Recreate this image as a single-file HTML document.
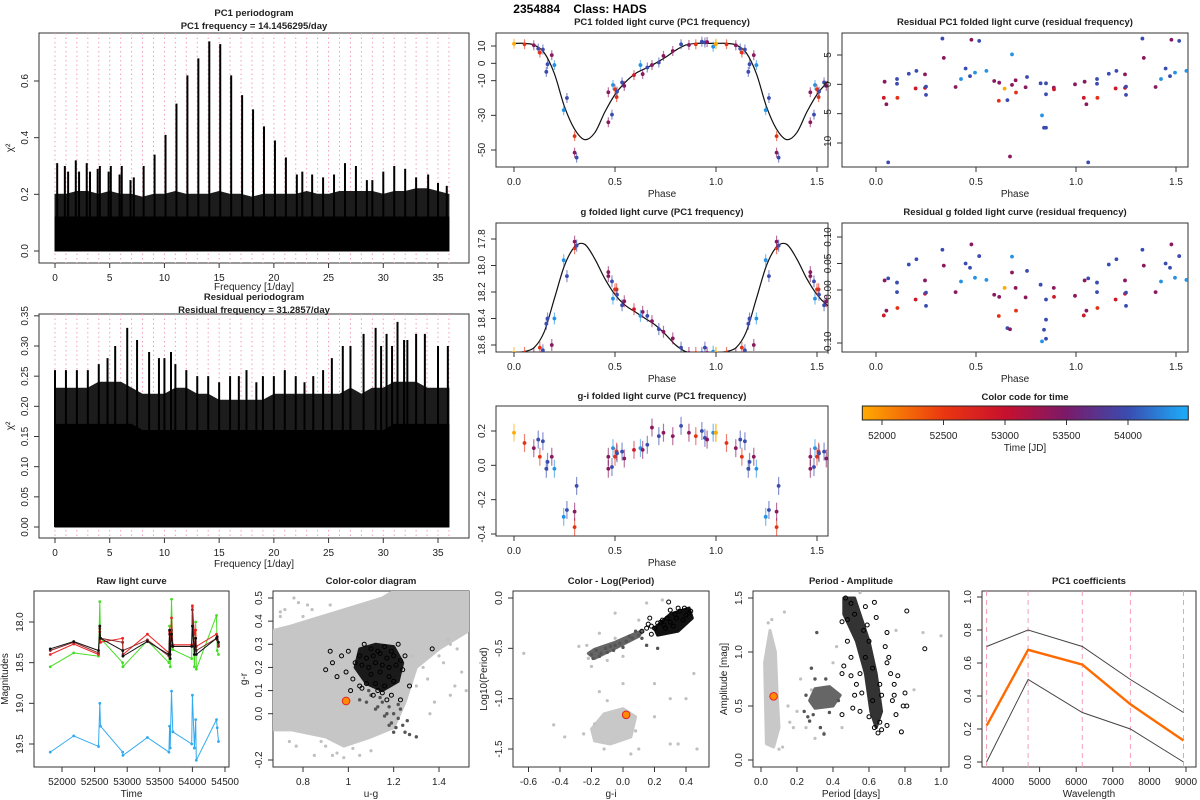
<!DOCTYPE html>
<html><head><meta charset="utf-8">
<style>
html,body{margin:0;padding:0;background:#fff;}
svg{display:block;font-family:"Liberation Sans",Arial,sans-serif;}
</style></head>
<body>
<svg id="fig" width="1200" height="800" viewBox="0 0 1200 800" xmlns="http://www.w3.org/2000/svg">
<text x="580" y="13" text-anchor="middle" font-size="12" font-weight="bold">2354884 &#160;&#160;&#160;Class: HADS</text>
</svg>
<script>
// ---------- data ----------
const pc1PeakF = [0.2,0.9,1.2,1.9,2.2,2.9,3.2,3.9,4.1,4.9,5.1,5.9,6.1,6.9,7.2,8.1,9.1,10.1,11.1,12.1,13.1,14.1,15.1,16.1,17.1,18.1,19.1,20.1,21.1,22.1,22.6,23.5,24.5,25.5,26.5,27.5,28.5,29.0,30.0,31.0,32.0,33.0,34.1,35.0,35.8];
const pc1PeakH = [0.31,0.30,0.28,0.32,0.28,0.31,0.28,0.29,0.30,0.28,0.30,0.27,0.30,0.25,0.26,0.30,0.34,0.41,0.52,0.62,0.68,0.74,0.73,0.62,0.55,0.50,0.44,0.39,0.33,0.27,0.28,0.27,0.26,0.27,0.31,0.30,0.25,0.25,0.28,0.30,0.29,0.26,0.27,0.24,0.23];
const pc1Env = [0.20,0.20,0.21,0.21,0.20,0.21,0.20,0.20,0.19,0.20,0.20,0.21,0.20,0.20,0.20,0.21,0.20,0.20,0.19,0.20,0.20,0.20,0.20,0.21,0.20,0.20,0.21,0.21,0.21,0.21,0.20,0.21,0.21,0.22,0.22,0.21,0.20];
const pc1Core = [0.12,0.12,0.12,0.12,0.12,0.12,0.12,0.12,0.12,0.12,0.12,0.12,0.12,0.12,0.12,0.12,0.12,0.12,0.12,0.12,0.12,0.12,0.12,0.12,0.12,0.12,0.12,0.12,0.12,0.12,0.12,0.12,0.12,0.12,0.12,0.12,0.12];
const resPeakF = [0.0,1.0,2.0,3.0,4.0,4.8,5.5,6.6,7.5,8.6,9.5,10.0,10.6,11.0,12.0,13.0,14.0,15.0,16.0,16.8,17.5,18.4,19.0,20.0,21.0,22.0,22.8,23.6,24.5,25.3,26.3,27.0,28.2,29.3,29.8,30.3,30.8,31.3,31.9,32.2,33.0,33.8,35.0,35.9];
const resPeakH = [0.26,0.26,0.26,0.26,0.27,0.28,0.30,0.33,0.31,0.29,0.28,0.28,0.29,0.27,0.26,0.25,0.25,0.24,0.25,0.25,0.26,0.24,0.25,0.25,0.26,0.25,0.24,0.25,0.26,0.28,0.30,0.30,0.32,0.33,0.30,0.32,0.30,0.34,0.31,0.31,0.32,0.32,0.30,0.30];
const resEnv = [0.23,0.23,0.23,0.23,0.24,0.24,0.24,0.23,0.22,0.22,0.22,0.23,0.23,0.22,0.22,0.21,0.21,0.21,0.21,0.21,0.22,0.22,0.22,0.22,0.22,0.22,0.22,0.23,0.22,0.23,0.23,0.24,0.24,0.24,0.23,0.23,0.23];
const resCore = [0.17,0.17,0.17,0.17,0.17,0.17,0.17,0.17,0.16,0.16,0.16,0.16,0.16,0.16,0.16,0.16,0.16,0.16,0.16,0.16,0.16,0.16,0.16,0.16,0.16,0.16,0.16,0.16,0.16,0.16,0.16,0.17,0.17,0.17,0.17,0.17,0.17];

const foldPhase = [0.0,0.052,0.098,0.12,0.128,0.143,0.16,0.166,0.187,0.2,0.246,0.262,0.30,0.30,0.31,0.467,0.467,0.485,0.49,0.5,0.508,0.51,0.535,0.546,0.594,0.626,0.637,0.66,0.683,0.717,0.74,0.786,0.827,0.866,0.9,0.93,0.945,0.956,0.986,0.999];
const foldTime  = [51830,52580,53400,54000,52580,54000,54000,54000,53400,54350,54350,54000,52580,53400,54000,53400,53400,54000,54350,52580,52580,54000,54000,53400,52900,54350,53400,54000,53400,54000,53400,53400,54000,53400,52580,54000,54000,53400,54350,51830];
const foldPC1   = [11.3,11,10.4,8.5,6.2,8,-4.9,-0.5,4.7,-1,-27,-20,-42,-51.5,-54.4,-16.7,-34,-29.6,-12.5,-15,-19.5,-16.3,-11,-13,-6.8,-1,-6.2,-2.4,-1,0.5,4.3,7.1,11,10.6,11,12.5,12,12.3,9.6,11];
const foldG     = [18.66,18.66,18.67,18.70,18.62,18.64,18.44,18.40,18.60,18.40,17.96,18.08,17.87,17.82,17.85,18.05,18.08,18.12,18.25,18.18,18.18,18.22,18.30,18.27,18.33,18.38,18.35,18.38,18.42,18.48,18.50,18.55,18.62,18.66,18.66,18.66,18.62,18.66,18.65,18.66];
const foldGI    = [0.19,0.13,0.10,0.15,0.05,0.14,-0.02,0.02,0.05,-0.02,-0.30,-0.26,-0.36,-0.27,-0.12,-0.02,0.05,-0.01,0.10,0.05,0.08,0.07,0.08,0.04,0.09,0.10,0.09,0.12,0.22,0.17,0.19,0.17,0.23,0.19,0.17,0.20,0.16,0.15,0.19,0.19];
const modelPhase = [0,0.05,0.1,0.15,0.2,0.25,0.3,0.35,0.4,0.45,0.5,0.55,0.6,0.65,0.7,0.75,0.8,0.85,0.9,0.95];
const modelPC1 = [11.5,11.5,10.5,6,-6,-25,-38,-44,-40,-28,-18,-11,-6,-3,0,3.5,7.5,10.5,11.5,11.5];
const modelG = [18.66,18.65,18.62,18.5,18.25,18.0,17.86,17.84,17.95,18.1,18.22,18.3,18.35,18.4,18.45,18.52,18.6,18.65,18.66,18.66];

const resPhase = [0.039,0.043,0.052,0.061,0.105,0.105,0.107,0.164,0.198,0.202,0.245,0.245,0.25,0.25,0.332,0.339,0.398,0.425,0.448,0.47,0.477,0.495,0.516,0.552,0.591,0.614,0.616,0.643,0.657,0.67,0.68,0.68,0.698,0.7,0.748,0.755,0.823,0.83,0.84,0.85,0.85,0.85,0.889,0.89,0.995];
const resTime  = [52900,53400,53400,54000,54000,54000,52580,54000,52900,54000,53400,52900,54000,54000,54000,53400,53400,54350,54000,54000,53400,54350,54000,54350,53400,52580,53400,51830,54000,53400,53400,54350,53400,52580,53400,54000,54000,54350,54000,54000,54000,54000,53400,52900,53400];
const resPC1   = [-2.3,0.45,-3.4,-13.3,0.9,0.1,-2.3,1.8,-0.7,2.3,1.7,-0.6,-1.8,-0.4,7.8,4.5,-0.45,0.9,2.7,1.4,7.6,2.0,7.4,2.3,0.57,-2.8,0.28,-0.74,-2.7,-12.3,-0.1,5.1,0.7,-1.4,-0.5,1.25,0.17,-5.3,-7.4,-7.4,0.17,-1.7,-0.57,-0.85,0.0];
const resG     = [-0.048,0.018,-0.039,0.022,0.014,-0.004,-0.034,0.048,-0.018,0.058,0.018,-0.007,-0.030,-0.005,0.076,0.046,-0.004,0.016,0.050,0.042,0.086,0.023,0.064,0.019,-0.009,-0.049,-0.013,0.004,-0.072,-0.074,0.033,0.063,0.004,-0.039,-0.014,0.036,0.010,-0.097,-0.075,-0.092,-0.018,-0.056,0.004,-0.013,-0.011];

const rawTime = [51820,52180,52560,52580,52590,52930,52935,53310,53640,53650,53660,53680,53700,53990,54000,54030,54050,54060,54370,54380,54400];
const rawBlack = [18.33,18.24,18.35,18.05,18.2,18.35,18.42,18.24,18.4,18.1,18.45,18.15,18.3,18.3,18.05,18.4,18.2,18.4,18.2,18.18,18.25];
const rawDarkRed = [18.35,18.25,18.38,18.08,18.2,18.25,18.35,18.22,18.42,18.15,18.4,18.1,18.3,18.3,17.85,18.3,18.2,18.35,18.2,18.22,18.3];
const rawRed = [18.4,18.27,18.4,18.12,18.25,18.2,18.4,18.15,18.38,18.12,18.3,17.95,18.28,18.28,17.8,18.15,18.1,18.3,18.15,18.2,18.28];
const rawGreen = [18.55,18.38,18.42,17.75,18.2,18.5,18.55,18.23,18.5,18.05,18.55,17.72,18.34,18.45,17.82,18.55,18.0,18.58,17.92,18.35,18.4];
const rawBlue = [19.6,19.4,19.53,19.0,19.28,19.6,19.64,19.42,19.6,19.28,19.55,18.85,19.35,19.5,18.9,19.55,19.2,19.7,19.2,19.3,19.47];

const ccBandU = [0.67,0.75,0.85,0.95,1.05,1.15,1.2,1.55,1.55,1.4,1.3,1.25,1.2,1.1,0.98,0.9,0.75,0.67];
const ccBandG = [0.36,0.38,0.41,0.44,0.47,0.50,0.53,0.53,0.37,0.28,0.20,0.05,-0.06,-0.10,-0.14,-0.10,-0.07,-0.07];
const ccGrayU = [0.72,0.78,0.80,0.70,0.74,0.85,0.93,0.95,1.02,1.30,1.35,1.45,1.50,1.42,1.38,1.48,0.88,0.98,1.10,1.28,1.45,0.70,0.82,1.40,0.77,0.9,1.33,1.47,0.76,0.84,0.92,1.05,1.36,1.52,1.44];
const ccGrayG = [0.45,0.48,0.42,0.44,-0.12,-0.18,-0.18,-0.17,-0.15,0.12,0.15,0.08,0.18,0.22,0.05,0.28,-0.12,-0.19,-0.16,0.25,0.30,0.42,0.47,0.25,-0.14,-0.14,0.20,0.12,0.50,0.45,0.47,-0.18,0.0,0.10,0.32];
const ccCoreU = [1.05,1.12,1.20,1.24,1.22,1.15,1.08,1.03];
const ccCoreG = [0.28,0.30,0.29,0.22,0.14,0.10,0.13,0.20];
const ccCircU = [1.07,1.10,1.13,1.16,1.19,1.22,1.05,1.08,1.11,1.14,1.17,1.20,1.23,1.03,1.06,1.09,1.12,1.15,1.18,1.21,1.24,1.00,0.97,0.93,0.90,0.95,1.02,1.25,1.27,1.37,1.10,1.14,1.18,1.08,1.12,1.16,1.20,1.06,1.13,1.19,1.15,1.11,1.05,1.23,1.17,0.92,0.99,1.01];
const ccCircG = [0.30,0.28,0.27,0.29,0.27,0.30,0.25,0.24,0.25,0.26,0.24,0.25,0.23,0.22,0.21,0.20,0.22,0.21,0.20,0.21,0.19,0.27,0.25,0.22,0.19,0.16,0.15,0.25,0.12,0.28,0.17,0.18,0.16,0.13,0.13,0.12,0.14,0.11,0.10,0.08,0.09,0.08,0.12,0.06,0.06,0.27,0.18,0.10];
const ccDarkU = [1.10,1.15,1.18,1.20,1.22,1.24,1.25,1.27,1.30,1.12,1.16,1.19,1.08,1.14,1.22,1.26,1.21,1.17,1.13,1.05,1.09,1.23,1.18,1.2];
const ccDarkG = [0.08,0.05,0.03,0.00,-0.02,-0.05,-0.08,-0.09,-0.10,0.02,-0.01,-0.04,0.05,0.07,0.04,-0.03,-0.06,0.00,0.03,0.06,0.10,0.02,-0.05,-0.08];
const ccStar = [0.99,0.055];

const clpLowX = [-0.2,-0.12,0.0,0.08,0.05,-0.08,-0.18];
const clpLowY = [-1.3,-1.15,-1.1,-1.18,-1.38,-1.45,-1.42];
const clpGrayX = [-0.63,-0.44,-0.37,-0.23,-0.22,-0.15,-0.18,-0.10,0.20,0.30,0.40,0.45,0.35,0.30,0.05,0.10,0.15,-0.05,0.0,0.20,0.47,-0.25,-0.12,0.08,-0.2,-0.1,0.0,-0.05,0.1,0.25,-0.28,-0.15];
const clpGrayY = [-0.55,-1.26,-1.38,-0.47,-0.60,-0.93,-1.25,-1.02,-0.85,-1.0,-1.0,-0.75,-1.45,-1.45,-1.55,-1.5,-0.05,-0.4,-0.85,-1.18,-1.5,-1.35,-1.5,-1.32,-0.68,-0.62,-0.58,-0.15,-0.22,-0.02,-0.48,-0.35];
const clpBandX = [-0.22,-0.18,-0.05,0.08,0.12,0.1,-0.05,-0.18];
const clpBandY = [-0.55,-0.51,-0.44,-0.35,-0.33,-0.38,-0.5,-0.6];
const clpCoreX = [0.2,0.3,0.42,0.44,0.35,0.22];
const clpCoreY = [-0.3,-0.16,-0.1,-0.2,-0.33,-0.37];
const clpCircX = [0.12,0.15,0.18,0.2,0.25,0.30,0.35,0.40,0.38,0.32,0.27,0.22,0.28,0.33,0.36,0.18,0.24,0.30,0.43,0.29,0.17,0.34,0.26,0.39,0.42,0.16];
const clpCircY = [-0.33,-0.3,-0.36,-0.30,-0.22,-0.12,-0.10,-0.17,-0.22,-0.28,-0.30,-0.25,-0.20,-0.16,-0.13,-0.28,-0.24,-0.24,-0.13,-0.04,-0.2,-0.20,-0.27,-0.1,-0.15,-0.26];
const clpDarkX = [-0.20,-0.17,-0.14,-0.11,-0.08,-0.05,-0.02,0.02,0.06,0.1,-0.15,-0.1,0.0,0.04,-0.06,-0.19,0.12,0.08,0.15,0.22];
const clpDarkY = [-0.56,-0.52,-0.55,-0.5,-0.48,-0.47,-0.45,-0.43,-0.4,-0.37,-0.58,-0.54,-0.49,-0.38,-0.52,-0.6,-0.4,-0.33,-0.47,-0.5];
const clpStar = [0.02,-1.16];

const paColX = [0.03,0.02,0.05,0.08,0.09,0.1,0.07];
const paColY = [0.15,0.9,1.2,1.0,0.6,0.3,0.12];
const paGrayX = [0.13,0.16,0.20,0.25,0.22,0.30,0.40,0.42,0.55,0.75,0.90,1.00,0.85,0.35,0.45,0.28,0.15,0.12,0.18,0.04,0.06,0.1];
const paGrayY = [1.37,0.35,0.45,0.30,0.75,0.20,0.90,1.05,1.55,1.20,1.18,1.15,0.65,0.25,0.30,0.65,0.50,0.12,0.30,1.27,1.3,0.1];
const paDarkPolyX = [0.27,0.30,0.38,0.44,0.40,0.30];
const paDarkPolyY = [0.55,0.66,0.68,0.60,0.50,0.48];
const paDarkX = [0.31,0.28,0.26,0.27,0.35,0.33,0.25,0.43,0.30,0.36,0.24,0.29,0.38];
const paDarkY = [1.18,0.85,0.40,0.36,0.24,0.30,0.60,0.55,0.75,0.75,0.45,0.42,0.44];
const paBandX = [0.46,0.52,0.60,0.64,0.67,0.64,0.61,0.58,0.53,0.46];
const paBandY = [1.50,1.50,1.10,0.80,0.45,0.30,0.45,0.80,1.10,1.35];
const paCircX = [0.47,0.50,0.45,0.52,0.58,0.63,0.64,0.57,0.48,0.50,0.46,0.45,0.50,0.55,0.70,0.69,0.70,0.72,0.74,0.76,0.73,0.74,0.79,0.81,0.80,0.81,0.91,0.52,0.55,0.51,0.45,0.60,0.63,0.66,0.67,0.70,0.65,0.62,0.67,0.78,0.75,0.60,0.58,0.62,0.56,0.53,0.48,0.66,0.71,0.59];
const paCircY = [1.50,1.45,1.28,1.35,1.42,1.46,1.32,1.20,1.10,0.95,0.87,0.80,0.78,0.80,1.18,1.05,0.90,0.80,0.70,0.78,0.55,0.60,0.50,0.50,0.62,1.38,1.03,0.60,0.45,0.48,0.42,0.40,0.30,0.35,0.28,0.32,0.25,0.55,0.60,0.26,0.42,1.10,0.95,0.85,0.62,0.70,1.30,0.70,0.95,1.25];
const paStar = [0.07,0.59];

const coefWave = [3551,4686,6166,7480,8932];
const coefPC1 = [0.22,0.68,0.59,0.35,0.13];
const coefUpper = [0.70,0.80,0.70,0.50,0.30];
const coefLower = [0.00,0.50,0.30,0.20,0.00];

const cmapT = [51840,52500,53000,53500,54000,54450];
const cmapC = [[255,170,0],[235,55,15],[200,16,46],[122,26,106],[58,76,176],[30,167,245]];

// ---------- helpers ----------
const NS = 'http://www.w3.org/2000/svg';
const svg = document.getElementById('fig');
function el(tag, attrs, name, parent) {
  const e = document.createElementNS(NS, tag);
  for (const k in attrs) e.setAttribute(k, attrs[k]);
  
  
  (parent || svg).appendChild(e);
  return e;
}
function txt(x, y, s, name, opt) {
  opt = opt || {};
  const a = {x: x, y: y, 'font-size': opt.size || 10, 'text-anchor': 'middle', fill: '#222'};
  if (opt.bold) a['font-weight'] = 'bold';
  if (opt.rot) a.transform = 'rotate(-90 ' + x + ' ' + y + ')';
  const t = el('text', a, name);
  t.textContent = s;
  return t;
}
function lin(v0, p0, v1, p1) { return v => p0 + (v - v0) * (p1 - p0) / (v1 - v0); }
function tcol(t) {
  if (t <= cmapT[0]) return 'rgb(' + cmapC[0] + ')';
  for (let i = 1; i < cmapT.length; i++) {
    if (t <= cmapT[i]) {
      const f = (t - cmapT[i-1]) / (cmapT[i] - cmapT[i-1]);
      const c = cmapC[i-1].map((a, j) => Math.round(a + (cmapC[i][j] - a) * f));
      return 'rgb(' + c + ')';
    }
  }
  return 'rgb(' + cmapC[cmapC.length-1] + ')';
}
function panel(p) {
  const g = el('g', {}, p.name);
  el('rect', {x: p.x0, y: p.y0, width: p.x1 - p.x0, height: p.y1 - p.y0, fill: 'none', stroke: '#333', 'stroke-width': 1}, p.name + '-frame', g);
  p.xt.forEach((v, i) => {
    const x = p.sx(v);
    el('line', {x1: x, x2: x, y1: p.y1, y2: p.y1 + 5, stroke: '#333'}, 'x-tick', g);
    txt(x, p.y1 + 18, p.xl ? p.xl[i] : String(v), 'x-tick-label', {size: 10});
  });
  p.yt.forEach((v, i) => {
    const y = p.sy(v);
    el('line', {x1: p.x0 - 5, x2: p.x0, y1: y, y2: y, stroke: '#333'}, 'y-tick', g);
    txt(p.x0 - 11, y, p.yl ? p.yl[i] : String(v), 'y-tick-label', {size: 10, rot: true});
  });
  if (p.xlab) txt((p.x0 + p.x1) / 2, p.y1 + (p.xlabOff || 30), p.xlab, 'x-axis-title', {size: 10});
  if (p.ylab) txt(p.x0 - 26, (p.y0 + p.y1) / 2, p.ylab, 'y-axis-title', {size: 10, rot: true});
  if (p.title) txt((p.x0 + p.x1) / 2, p.ty, p.title, 'panel-title', {size: 9.5, bold: true});
  if (p.title2) txt((p.x0 + p.x1) / 2, p.ty + 13, p.title2, 'panel-subtitle', {size: 9.5, bold: true});
  return g;
}
function clip(p) {
  const id = 'c' + Math.round(p.x0) + '_' + Math.round(p.y0);
  const cp = el('clipPath', {id: id}, 'clip-region');
  el('rect', {x: p.x0, y: p.y0, width: p.x1 - p.x0, height: p.y1 - p.y0}, 'clip-rect', cp);
  return el('g', {'clip-path': 'url(#' + id + ')'}, p.name + '-plot-area');
}
function dot(g, x, y, r, fill, name, stroke) {
  el('circle', {cx: x, cy: y, r: r, fill: fill, stroke: stroke || 'none', 'stroke-width': 1}, name, g);
}
function poly(g, xs, ys, p, fill, name, sw) {
  const pts = xs.map((v, i) => p.sx(v).toFixed(1) + ',' + p.sy(ys[i]).toFixed(1)).join(' ');
  el('polygon', {points: pts, fill: fill, stroke: fill, 'stroke-width': sw === undefined ? 3 : sw, 'stroke-linejoin': 'round'}, name, g);
}
function smoothPath(pts) {
  let d = 'M' + pts[0][0] + ',' + pts[0][1];
  for (let i = 0; i < pts.length - 1; i++) {
    const p0 = pts[Math.max(0, i-1)], p1 = pts[i], p2 = pts[i+1], p3 = pts[Math.min(pts.length-1, i+2)];
    d += ' C' + (p1[0] + (p2[0]-p0[0])/6) + ',' + (p1[1] + (p2[1]-p0[1])/6) + ' ' + (p2[0] - (p3[0]-p1[0])/6) + ',' + (p2[1] - (p3[1]-p1[1])/6) + ' ' + p2[0] + ',' + p2[1];
  }
  return d;
}

// ---------- periodograms ----------
function periodogram(p, env, core, pf, ph) {
  panel(p);
  const g = clip(p);
  for (let f = 0; f <= 36; f++) {
    el('line', {x1: p.sx(f), x2: p.sx(f), y1: p.y0, y2: p.y1, stroke: '#f4a0b4', 'stroke-dasharray': '1.5,3', 'stroke-width': 1}, 'frequency-gridline', g);
  }
  const fx = env.map((v, i) => i);
  poly(g, [0].concat(fx, [36]), [0].concat(env, [0]), p, '#1c1c1c', 'noise-envelope', 1);
  poly(g, [0].concat(fx, [36]), [0].concat(core, [0]), p, '#000', 'noise-core', 1);
  pf.forEach((f, i) => {
    el('line', {x1: p.sx(f), x2: p.sx(f), y1: p.sy(0), y2: p.sy(ph[i]), stroke: '#000', 'stroke-width': 2}, 'periodogram-peak', g);
  });
}
const p1 = {name: 'pc1-periodogram', x0: 39, x1: 469, y0: 33, y1: 263, ty: 16, title: 'PC1 periodogram', title2: 'PC1 frequency = 14.1456295/day', xlab: 'Frequency [1/day]', ylab: 'χ²', xlabOff: 27,
  xt: [0,5,10,15,20,25,30,35], yt: [0,0.2,0.4,0.6], yl: ['0.0','0.2','0.4','0.6']};
p1.sx = lin(0, 55, 35, 438); p1.sy = lin(0, 251, 0.6, 81);
periodogram(p1, pc1Env, pc1Core, pc1PeakF, pc1PeakH);
const p2 = {name: 'residual-periodogram', x0: 39, x1: 469, y0: 314, y1: 538, ty: 300, title: 'Residual periodogram', title2: 'Residual frequency = 31.2857/day', xlab: 'Frequency [1/day]', ylab: 'χ²', xlabOff: 29,
  xt: [0,5,10,15,20,25,30,35], yt: [0,0.05,0.1,0.15,0.2,0.25,0.3,0.35], yl: ['0.00','0.05','0.10','0.15','0.20','0.25','0.30','0.35']};
p2.sx = lin(0, 55, 35, 438); p2.sy = lin(0, 527, 0.3, 346);
periodogram(p2, resEnv, resCore, resPeakF, resPeakH);

// ---------- folded curves ----------
function folded(p, vals, times, errPx, model) {
  panel(p);
  const g = clip(p);
  if (model) {
    const pts = [];
    for (let k = 0; k < 2; k++) modelPhase.forEach((ph, i) => pts.push([+p.sx(ph + k).toFixed(1), +p.sy(model[i]).toFixed(1)]));
    pts.push([+p.sx(2).toFixed(1), +p.sy(model[0]).toFixed(1)]);
    el('path', {d: smoothPath(pts), fill: 'none', stroke: '#111', 'stroke-width': 1.2}, 'model-curve', g);
  }
  for (let k = 0; k < 2; k++) {
    p.ph.forEach((ph, i) => {
      const x = p.sx(ph + k), y = p.sy(vals[i]), c = tcol(times[i]);
      if (errPx) el('line', {x1: x, x2: x, y1: y - errPx, y2: y + errPx, stroke: c, 'stroke-width': 1.2, opacity: 0.6}, 'error-bar', g);
      dot(g, x, y, 1.9, c, 'data-point');
    });
  }
}
const phaseTicks = [0, 0.5, 1, 1.5], phaseLabels = ['0.0','0.5','1.0','1.5'];
const f1 = {name: 'pc1-folded-light-curve', x0: 496, x1: 828, y0: 33, y1: 167, ty: 25, title: 'PC1 folded light curve (PC1 frequency)', xlab: 'Phase', xt: phaseTicks, xl: phaseLabels, yt: [10,0,-10,-30,-50], yl: ['10','0','-10','-30','-50'], ph: foldPhase};
f1.sx = lin(0, 514, 1.5, 817); f1.sy = lin(10, 46, -50, 150);
folded(f1, foldPC1, foldTime, 5, modelPC1);
const f2 = {name: 'residual-pc1-folded-light-curve', x0: 842, x1: 1188, y0: 33, y1: 167, ty: 25, title: 'Residual PC1 folded light curve (residual frequency)', xlab: 'Phase', xt: phaseTicks, xl: phaseLabels, yt: [5,0,-5,-10], yl: ['5','0','-5','-10'], ph: resPhase};
f2.sx = lin(0, 876, 1.5, 1176); f2.sy = lin(5, 55, -10, 143);
folded(f2, resPC1, resTime, 0, null);
const f3 = {name: 'g-folded-light-curve', x0: 496, x1: 828, y0: 223, y1: 352, ty: 215, title: 'g folded light curve (PC1 frequency)', xlab: 'Phase', xt: phaseTicks, xl: phaseLabels, yt: [17.8,18.0,18.2,18.4,18.6], yl: ['17.8','18.0','18.2','18.4','18.6'], ph: foldPhase};
f3.sx = lin(0, 514, 1.5, 817); f3.sy = lin(17.8, 239, 18.6, 345);
folded(f3, foldG, foldTime, 6, modelG);
const f4 = {name: 'residual-g-folded-light-curve', x0: 842, x1: 1188, y0: 223, y1: 352, ty: 215, title: 'Residual g folded light curve (residual frequency)', xlab: 'Phase', xt: phaseTicks, xl: phaseLabels, yt: [0.1,0.05,0,-0.1], yl: ['0.10','0.05','0.00','-0.10'], ph: resPhase};
f4.sx = lin(0, 876, 1.5, 1176); f4.sy = lin(0.1, 237, -0.1, 343);
folded(f4, resG, resTime, 0, null);
const f5 = {name: 'g-i-folded-light-curve', x0: 496, x1: 828, y0: 406, y1: 536, ty: 399, title: 'g-i folded light curve (PC1 frequency)', xlab: 'Phase', xt: phaseTicks, xl: phaseLabels, yt: [0.2,0,-0.2,-0.4], yl: ['0.2','0.0','-0.2','-0.4'], ph: foldPhase};
f5.sx = lin(0, 514, 1.5, 817); f5.sy = lin(0.2, 431, -0.4, 534);
folded(f5, foldGI, foldTime, 9, null);

// ---------- colorbar ----------
(function () {
  const sx = lin(52000, 882, 54000, 1128);
  const defs = el('defs', {}, 'colorbar-defs');
  const lg = el('linearGradient', {id: 'cbar', x1: 0, x2: 1, y1: 0, y2: 0}, 'colorbar-gradient', defs);
  const t0 = 51840, t1 = 54490;
  cmapT.forEach((t, i) => el('stop', {offset: ((t - t0) / (t1 - t0)).toFixed(3), 'stop-color': 'rgb(' + cmapC[i] + ')'}, 'gradient-stop', lg));
  el('rect', {x: sx(t0), y: 406, width: sx(t1) - sx(t0), height: 14, fill: 'url(#cbar)', stroke: '#222'}, 'colorbar', svg);
  txt(1025, 400, 'Color code for time', 'colorbar-title', {size: 9.5, bold: true});
  [52000, 52500, 53000, 53500, 54000].forEach(t => {
    el('line', {x1: sx(t), x2: sx(t), y1: 420, y2: 425, stroke: '#333'}, 'colorbar-tick', svg);
    txt(sx(t), 439, String(t), 'colorbar-tick-label', {size: 10});
  });
  txt(1025, 451, 'Time [JD]', 'colorbar-axis-title', {size: 10});
})();

// ---------- raw light curve ----------
(function () {
  const p = {name: 'raw-light-curve', x0: 34, x1: 229, y0: 591, y1: 767, ty: 584, title: 'Raw light curve', xlab: 'Time', ylab: 'Magnitudes',
    xt: [52000,52500,53000,53500,54000,54500], yt: [18,18.5,19,19.5], yl: ['18.0','18.5','19.0','19.5']};
  p.sx = lin(52000, 62, 54500, 225); p.sy = lin(18, 622, 19.5, 744);
  panel(p);
  const g = clip(p);
  [[rawBlue,'#33aaee','u-band'],[rawGreen,'#44dd22','g-band'],[rawRed,'#ee2222','r-band'],[rawDarkRed,'#8b2a2a','i-band'],[rawBlack,'#111','z-band']].forEach(s => {
    const pts = rawTime.map((t, i) => p.sx(t).toFixed(1) + ',' + p.sy(s[0][i]).toFixed(1)).join(' ');
    el('polyline', {points: pts, fill: 'none', stroke: s[1], 'stroke-width': 1}, s[2] + '-line', g);
    rawTime.forEach((t, i) => dot(g, p.sx(t), p.sy(s[0][i]), 1.4, s[1], s[2] + '-point'));
  });
})();

// ---------- scatter panels ----------
function scatterPts(g, p, xs, ys, fill, stroke, r, name) {
  xs.forEach((v, i) => dot(g, p.sx(v), p.sy(ys[i]), r, fill, name, stroke));
}
(function () {
  const p = {name: 'color-color-diagram', x0: 273, x1: 469, y0: 591, y1: 767, ty: 584, title: 'Color-color diagram', xlab: 'u-g', ylab: 'g-r',
    xt: [0.8,1.0,1.2,1.4], yt: [-0.2,0,0.1,0.2,0.3,0.4,0.5], yl: ['-0.2','0.0','0.1','0.2','0.3','0.4','0.5']};
  p.sx = lin(0.8, 303, 1.4, 439); p.sy = lin(0.5, 598, -0.2, 760);
  panel(p);
  const g = clip(p);
  poly(g, ccBandU, ccBandG, p, '#c6c6c6', 'reference-star-density');
  scatterPts(g, p, ccGrayU, ccGrayG, '#c0c0c0', null, 1.6, 'reference-star');
  scatterPts(g, p, ccDarkU, ccDarkG, '#555', null, 1.7, 'class-member-point');
  poly(g, ccCoreU, ccCoreG, p, '#1a1a1a', 'class-cluster-core');
  scatterPts(g, p, ccCircU, ccCircG, 'none', '#000', 2, 'class-member-circle');
  dot(g, p.sx(ccStar[0]), p.sy(ccStar[1]), 3.8, '#ff8c00', 'target-star', '#e82020');
})();
(function () {
  const p = {name: 'color-log-period', x0: 513, x1: 709, y0: 591, y1: 767, ty: 584, title: 'Color - Log(Period)', xlab: 'g-i', ylab: 'Log10(Period)',
    xt: [-0.6,-0.4,-0.2,0,0.2,0.4], xl: ['-0.6','-0.4','-0.2','0.0','0.2','0.4'], yt: [0,-0.5,-1,-1.5], yl: ['0.0','-0.5','-1.0','-1.5']};
  p.sx = lin(0, 623, 0.4, 686); p.sy = lin(0, 598, -1.5, 749);
  panel(p);
  const g = clip(p);
  poly(g, clpLowX, clpLowY, p, '#c8c8c8', 'reference-star-density');
  scatterPts(g, p, clpGrayX, clpGrayY, '#c0c0c0', null, 1.6, 'reference-star');
  poly(g, clpBandX, clpBandY, p, '#666', 'class-band');
  scatterPts(g, p, clpDarkX, clpDarkY, '#555', null, 1.7, 'class-member-point');
  poly(g, clpCoreX, clpCoreY, p, '#111', 'class-cluster-core');
  scatterPts(g, p, clpCircX, clpCircY, 'none', '#000', 2, 'class-member-circle');
  dot(g, p.sx(clpStar[0]), p.sy(clpStar[1]), 3.8, '#ff8c00', 'target-star', '#e82020');
})();
(function () {
  const p = {name: 'period-amplitude', x0: 753, x1: 949, y0: 591, y1: 767, ty: 584, title: 'Period - Amplitude', xlab: 'Period [days]', ylab: 'Amplitude [mag]',
    xt: [0,0.2,0.4,0.6,0.8,1], xl: ['0.0','0.2','0.4','0.6','0.8','1.0'], yt: [0,0.5,1,1.5], yl: ['0.0','0.5','1.0','1.5']};
  p.sx = lin(0, 761, 1, 941); p.sy = lin(0, 760, 1.5, 598);
  panel(p);
  const g = clip(p);
  poly(g, paColX, paColY, p, '#c8c8c8', 'reference-star-density');
  scatterPts(g, p, paGrayX, paGrayY, '#c0c0c0', null, 1.6, 'reference-star');
  poly(g, paDarkPolyX, paDarkPolyY, p, '#666', 'class-band');
  scatterPts(g, p, paDarkX, paDarkY, '#555', null, 1.7, 'class-member-point');
  poly(g, paBandX, paBandY, p, '#333', 'class-cluster-core');
  scatterPts(g, p, paCircX, paCircY, 'none', '#000', 2, 'class-member-circle');
  dot(g, p.sx(paStar[0]), p.sy(paStar[1]), 3.8, '#ff8c00', 'target-star', '#e82020');
})();

// ---------- PC1 coefficients ----------
(function () {
  const p = {name: 'pc1-coefficients', x0: 982, x1: 1196, y0: 591, y1: 767, ty: 584, title: 'PC1 coefficients', xlab: 'Wavelength',
    xt: [4000,5000,6000,7000,8000,9000], yt: [0,0.2,0.4,0.6,0.8,1], yl: ['0.0','0.2','0.4','0.6','0.8','1.0']};
  p.sx = lin(4000, 1003, 9000, 1186); p.sy = lin(0, 762, 1, 597);
  panel(p);
  const g = clip(p);
  coefWave.forEach(w => el('line', {x1: p.sx(w), x2: p.sx(w), y1: p.y0, y2: p.y1, stroke: '#f4a0b4', 'stroke-dasharray': '5,4', 'stroke-width': 1}, 'filter-wavelength-line', g));
  [[coefUpper,'#444',1,'upper-bound-line'],[coefLower,'#444',1,'lower-bound-line'],[coefPC1,'#ff6a00',2.4,'pc1-coefficient-line']].forEach(s => {
    const pts = coefWave.map((w, i) => p.sx(w).toFixed(1) + ',' + p.sy(s[0][i]).toFixed(1)).join(' ');
    el('polyline', {points: pts, fill: 'none', stroke: s[1], 'stroke-width': s[2]}, s[3], g);
  });
})();
</script>
</body></html>
